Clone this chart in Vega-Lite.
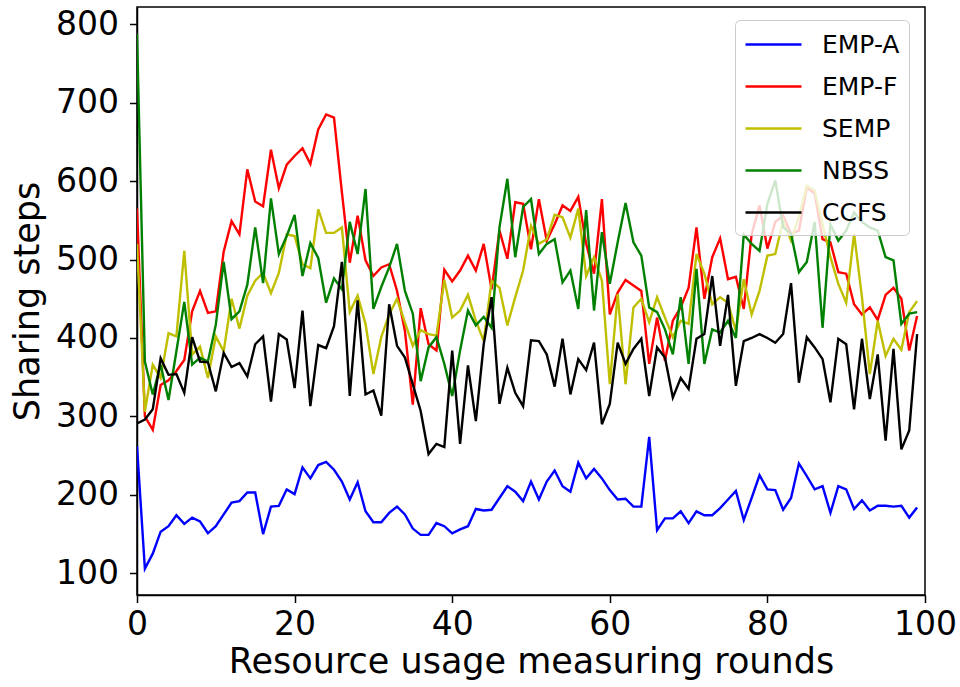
{
  "$schema": "https://vega.github.io/schema/vega-lite/v6.json",
  "width": 788,
  "height": 588,
  "autosize": "none",
  "padding": {"left": 137, "top": 7, "right": 35, "bottom": 92},
  "background": "white",
  "config": {
    "view": {"stroke": "black", "strokeWidth": 1.5},
    "font": "DejaVu Sans",
    "axis": {
      "grid": false,
      "domainColor": "black",
      "domainWidth": 1.5,
      "tickColor": "black",
      "tickWidth": 1.5,
      "tickSize": 7.5,
      "labelFont": "DejaVu Sans",
      "labelFontSize": 33,
      "labelColor": "black",
      "labelFlush": false,
      "labelOverlap": false,
      "titleFont": "DejaVu Sans",
      "titleFontSize": 35,
      "titleFontWeight": "normal",
      "titleColor": "black"
    },
    "legend": {
      "labelFont": "DejaVu Sans",
      "labelFontSize": 25,
      "labelColor": "black"
    }
  },
  "data": {
    "values": [
      {"x":0,"EMP-A":262,"EMP-F":565,"SEMP":520,"NBSS":788,"CCFS":291},
      {"x":1,"EMP-A":106,"EMP-F":300,"SEMP":306,"NBSS":370,"CCFS":296},
      {"x":2,"EMP-A":125,"EMP-F":283,"SEMP":366,"NBSS":328,"CCFS":309},
      {"x":3,"EMP-A":153,"EMP-F":340,"SEMP":349,"NBSS":366,"CCFS":374},
      {"x":4,"EMP-A":160,"EMP-F":346,"SEMP":406,"NBSS":321,"CCFS":353},
      {"x":5,"EMP-A":174,"EMP-F":358,"SEMP":402,"NBSS":383,"CCFS":354},
      {"x":6,"EMP-A":163,"EMP-F":372,"SEMP":511,"NBSS":446,"CCFS":330},
      {"x":7,"EMP-A":171,"EMP-F":434,"SEMP":379,"NBSS":366,"CCFS":401},
      {"x":8,"EMP-A":166,"EMP-F":460,"SEMP":389,"NBSS":375,"CCFS":370},
      {"x":9,"EMP-A":151,"EMP-F":432,"SEMP":349,"NBSS":370,"CCFS":369},
      {"x":10,"EMP-A":160,"EMP-F":434,"SEMP":402,"NBSS":417,"CCFS":332},
      {"x":11,"EMP-A":175,"EMP-F":510,"SEMP":383,"NBSS":497,"CCFS":381},
      {"x":12,"EMP-A":190,"EMP-F":549,"SEMP":450,"NBSS":424,"CCFS":363},
      {"x":13,"EMP-A":192,"EMP-F":532,"SEMP":412,"NBSS":434,"CCFS":368},
      {"x":14,"EMP-A":203,"EMP-F":615,"SEMP":454,"NBSS":468,"CCFS":351},
      {"x":15,"EMP-A":203,"EMP-F":574,"SEMP":473,"NBSS":541,"CCFS":392},
      {"x":16,"EMP-A":150,"EMP-F":568,"SEMP":483,"NBSS":470,"CCFS":402},
      {"x":17,"EMP-A":185,"EMP-F":640,"SEMP":457,"NBSS":578,"CCFS":319},
      {"x":18,"EMP-A":186,"EMP-F":591,"SEMP":483,"NBSS":507,"CCFS":405},
      {"x":19,"EMP-A":207,"EMP-F":621,"SEMP":532,"NBSS":530,"CCFS":398},
      {"x":20,"EMP-A":201,"EMP-F":632,"SEMP":530,"NBSS":557,"CCFS":336},
      {"x":21,"EMP-A":235,"EMP-F":642,"SEMP":494,"NBSS":479,"CCFS":435},
      {"x":22,"EMP-A":221,"EMP-F":622,"SEMP":489,"NBSS":521,"CCFS":313},
      {"x":23,"EMP-A":238,"EMP-F":666,"SEMP":564,"NBSS":502,"CCFS":391},
      {"x":24,"EMP-A":242,"EMP-F":685,"SEMP":534,"NBSS":445,"CCFS":387},
      {"x":25,"EMP-A":232,"EMP-F":681,"SEMP":534,"NBSS":476,"CCFS":415},
      {"x":26,"EMP-A":217,"EMP-F":586,"SEMP":541,"NBSS":462,"CCFS":497},
      {"x":27,"EMP-A":194,"EMP-F":496,"SEMP":433,"NBSS":548,"CCFS":326},
      {"x":28,"EMP-A":216,"EMP-F":556,"SEMP":454,"NBSS":507,"CCFS":448},
      {"x":29,"EMP-A":179,"EMP-F":499,"SEMP":418,"NBSS":590,"CCFS":328},
      {"x":30,"EMP-A":165,"EMP-F":479,"SEMP":354,"NBSS":437,"CCFS":333},
      {"x":31,"EMP-A":165,"EMP-F":490,"SEMP":401,"NBSS":465,"CCFS":301},
      {"x":32,"EMP-A":177,"EMP-F":494,"SEMP":430,"NBSS":490,"CCFS":443},
      {"x":33,"EMP-A":185,"EMP-F":460,"SEMP":450,"NBSS":520,"CCFS":390},
      {"x":34,"EMP-A":175,"EMP-F":409,"SEMP":420,"NBSS":460,"CCFS":375},
      {"x":35,"EMP-A":157,"EMP-F":315,"SEMP":390,"NBSS":431,"CCFS":341},
      {"x":36,"EMP-A":149,"EMP-F":438,"SEMP":410,"NBSS":345,"CCFS":307},
      {"x":37,"EMP-A":149,"EMP-F":392,"SEMP":405,"NBSS":388,"CCFS":252},
      {"x":38,"EMP-A":164,"EMP-F":384,"SEMP":403,"NBSS":401,"CCFS":265},
      {"x":39,"EMP-A":160,"EMP-F":487,"SEMP":474,"NBSS":367,"CCFS":261},
      {"x":40,"EMP-A":151,"EMP-F":472,"SEMP":426,"NBSS":326,"CCFS":384},
      {"x":41,"EMP-A":156,"EMP-F":486,"SEMP":435,"NBSS":384,"CCFS":265},
      {"x":42,"EMP-A":160,"EMP-F":505,"SEMP":455,"NBSS":435,"CCFS":365},
      {"x":43,"EMP-A":182,"EMP-F":486,"SEMP":422,"NBSS":416,"CCFS":294},
      {"x":44,"EMP-A":180,"EMP-F":520,"SEMP":396,"NBSS":427,"CCFS":392},
      {"x":45,"EMP-A":181,"EMP-F":462,"SEMP":473,"NBSS":413,"CCFS":452},
      {"x":46,"EMP-A":196,"EMP-F":537,"SEMP":464,"NBSS":541,"CCFS":316},
      {"x":47,"EMP-A":211,"EMP-F":501,"SEMP":416,"NBSS":603,"CCFS":362},
      {"x":48,"EMP-A":204,"EMP-F":573,"SEMP":452,"NBSS":503,"CCFS":330},
      {"x":49,"EMP-A":192,"EMP-F":571,"SEMP":486,"NBSS":567,"CCFS":313},
      {"x":50,"EMP-A":217,"EMP-F":513,"SEMP":543,"NBSS":577,"CCFS":397},
      {"x":51,"EMP-A":194,"EMP-F":577,"SEMP":520,"NBSS":507,"CCFS":396},
      {"x":52,"EMP-A":217,"EMP-F":524,"SEMP":526,"NBSS":520,"CCFS":379},
      {"x":53,"EMP-A":231,"EMP-F":545,"SEMP":557,"NBSS":526,"CCFS":338},
      {"x":54,"EMP-A":211,"EMP-F":569,"SEMP":554,"NBSS":471,"CCFS":399},
      {"x":55,"EMP-A":204,"EMP-F":562,"SEMP":528,"NBSS":486,"CCFS":328},
      {"x":56,"EMP-A":241,"EMP-F":580,"SEMP":565,"NBSS":437,"CCFS":373},
      {"x":57,"EMP-A":221,"EMP-F":520,"SEMP":479,"NBSS":563,"CCFS":359},
      {"x":58,"EMP-A":233,"EMP-F":482,"SEMP":503,"NBSS":435,"CCFS":394},
      {"x":59,"EMP-A":221,"EMP-F":577,"SEMP":473,"NBSS":535,"CCFS":290},
      {"x":60,"EMP-A":206,"EMP-F":430,"SEMP":341,"NBSS":469,"CCFS":316},
      {"x":61,"EMP-A":194,"EMP-F":458,"SEMP":456,"NBSS":522,"CCFS":394},
      {"x":62,"EMP-A":195,"EMP-F":474,"SEMP":341,"NBSS":572,"CCFS":367},
      {"x":63,"EMP-A":185,"EMP-F":467,"SEMP":439,"NBSS":522,"CCFS":386},
      {"x":64,"EMP-A":185,"EMP-F":460,"SEMP":450,"NBSS":505,"CCFS":399},
      {"x":65,"EMP-A":274,"EMP-F":367,"SEMP":420,"NBSS":439,"CCFS":326},
      {"x":66,"EMP-A":155,"EMP-F":426,"SEMP":452,"NBSS":433,"CCFS":388},
      {"x":67,"EMP-A":170,"EMP-F":371,"SEMP":426,"NBSS":411,"CCFS":375},
      {"x":68,"EMP-A":170,"EMP-F":422,"SEMP":401,"NBSS":379,"CCFS":324},
      {"x":69,"EMP-A":179,"EMP-F":439,"SEMP":422,"NBSS":452,"CCFS":349},
      {"x":70,"EMP-A":164,"EMP-F":464,"SEMP":418,"NBSS":367,"CCFS":335},
      {"x":71,"EMP-A":179,"EMP-F":541,"SEMP":507,"NBSS":488,"CCFS":399},
      {"x":72,"EMP-A":174,"EMP-F":450,"SEMP":482,"NBSS":367,"CCFS":405},
      {"x":73,"EMP-A":174,"EMP-F":503,"SEMP":443,"NBSS":411,"CCFS":479},
      {"x":74,"EMP-A":183,"EMP-F":527,"SEMP":452,"NBSS":407,"CCFS":390},
      {"x":75,"EMP-A":194,"EMP-F":475,"SEMP":445,"NBSS":422,"CCFS":455},
      {"x":76,"EMP-A":205,"EMP-F":478,"SEMP":409,"NBSS":400,"CCFS":339},
      {"x":77,"EMP-A":168,"EMP-F":437,"SEMP":475,"NBSS":532,"CCFS":396},
      {"x":78,"EMP-A":196,"EMP-F":532,"SEMP":430,"NBSS":520,"CCFS":400},
      {"x":79,"EMP-A":225,"EMP-F":569,"SEMP":460,"NBSS":511,"CCFS":405},
      {"x":80,"EMP-A":207,"EMP-F":514,"SEMP":505,"NBSS":571,"CCFS":400},
      {"x":81,"EMP-A":206,"EMP-F":548,"SEMP":507,"NBSS":601,"CCFS":394},
      {"x":82,"EMP-A":181,"EMP-F":556,"SEMP":550,"NBSS":541,"CCFS":405},
      {"x":83,"EMP-A":196,"EMP-F":533,"SEMP":524,"NBSS":533,"CCFS":470},
      {"x":84,"EMP-A":240,"EMP-F":537,"SEMP":555,"NBSS":484,"CCFS":343},
      {"x":85,"EMP-A":224,"EMP-F":592,"SEMP":594,"NBSS":497,"CCFS":401},
      {"x":86,"EMP-A":207,"EMP-F":584,"SEMP":588,"NBSS":548,"CCFS":388},
      {"x":87,"EMP-A":211,"EMP-F":526,"SEMP":545,"NBSS":413,"CCFS":373},
      {"x":88,"EMP-A":177,"EMP-F":522,"SEMP":503,"NBSS":545,"CCFS":318},
      {"x":89,"EMP-A":211,"EMP-F":484,"SEMP":469,"NBSS":524,"CCFS":399},
      {"x":90,"EMP-A":207,"EMP-F":482,"SEMP":445,"NBSS":537,"CCFS":392},
      {"x":91,"EMP-A":182,"EMP-F":443,"SEMP":533,"NBSS":560,"CCFS":309},
      {"x":92,"EMP-A":193,"EMP-F":430,"SEMP":452,"NBSS":548,"CCFS":399},
      {"x":93,"EMP-A":180,"EMP-F":439,"SEMP":354,"NBSS":541,"CCFS":322},
      {"x":94,"EMP-A":186,"EMP-F":423,"SEMP":422,"NBSS":537,"CCFS":379},
      {"x":95,"EMP-A":186,"EMP-F":455,"SEMP":377,"NBSS":503,"CCFS":269},
      {"x":96,"EMP-A":185,"EMP-F":464,"SEMP":399,"NBSS":499,"CCFS":386},
      {"x":97,"EMP-A":186,"EMP-F":450,"SEMP":385,"NBSS":418,"CCFS":258},
      {"x":98,"EMP-A":171,"EMP-F":384,"SEMP":433,"NBSS":431,"CCFS":282},
      {"x":99,"EMP-A":184,"EMP-F":428,"SEMP":447,"NBSS":433,"CCFS":405}
    ]
  },
  "transform": [
    {"fold": ["EMP-A", "EMP-F", "SEMP", "NBSS", "CCFS"], "as": ["series", "value"]}
  ],
  "mark": {"type": "line", "strokeWidth": 2.4, "clip": true},
  "encoding": {
    "x": {
      "field": "x",
      "type": "quantitative",
      "scale": {"domain": [0, 100], "nice": false, "zero": false},
      "axis": {
        "values": [0, 20, 40, 60, 80, 100],
        "title": "Resource usage measuring rounds",
        "labelPadding": 6,
        "titlePadding": 3
      }
    },
    "y": {
      "field": "value",
      "type": "quantitative",
      "scale": {"domain": [72.3, 822], "nice": false, "zero": false},
      "axis": {
        "values": [100, 200, 300, 400, 500, 600, 700, 800],
        "title": "Sharing steps",
        "labelPadding": 11,
        "titlePadding": 10
      }
    },
    "color": {
      "field": "series",
      "type": "nominal",
      "sort": ["EMP-A", "EMP-F", "SEMP", "NBSS", "CCFS"],
      "scale": {
        "domain": ["EMP-A", "EMP-F", "SEMP", "NBSS", "CCFS"],
        "range": ["#0000ff", "#ff0000", "#bfbf00", "#008000", "#000000"]
      },
      "legend": {
        "title": null,
        "orient": "none",
        "legendX": 598,
        "legendY": 13,
        "symbolType": "M-1,0H3",
        "symbolSize": 784,
        "symbolStrokeWidth": 2.5,
        "labelOffset": 47,
        "rowPadding": 13,
        "padding": 9,
        "fillColor": "rgba(255,255,255,0.8)",
        "strokeColor": "#cccccc",
        "cornerRadius": 5
      }
    }
  }
}
